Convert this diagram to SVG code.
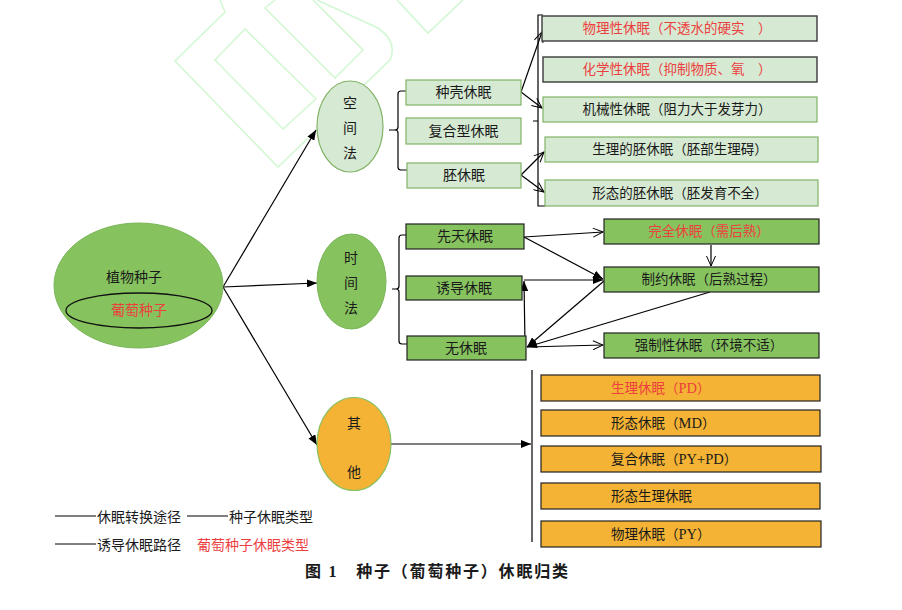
<svg xmlns="http://www.w3.org/2000/svg" width="902" height="610" viewBox="0 0 902 610">
<defs>
<marker id="fa" viewBox="0 0 10 8" refX="10" refY="4" markerWidth="10" markerHeight="8" markerUnits="userSpaceOnUse" orient="auto">
<path d="M0,0 L10,4 L0,8 Z" fill="#000"/>
</marker>
<marker id="oa" viewBox="0 0 12 10" refX="11" refY="5" markerWidth="12" markerHeight="10" markerUnits="userSpaceOnUse" orient="auto">
<path d="M1,0.5 L11,5 L1,9.5" fill="none" stroke="#000" stroke-width="1"/>
</marker>
</defs>
<style>
text{font-family:"Liberation Serif","Noto Sans CJK SC",serif;font-size:14px;fill:#1a1a1a;dominant-baseline:central;text-anchor:middle}
.s{font-size:13.5px}
.r{fill:#ec3f3f}
.lt{font-size:14.5px}
.lg{stroke:#82b366;stroke-width:1.2;fill:#d6e9d2}
.lgd{stroke:#3a3a3a;stroke-width:1.4;fill:#d6e9d2}
.dg{stroke:#222;stroke-width:1.2;fill:#86c35e}
.or{stroke:#222;stroke-width:1.2;fill:#f4b334}
.ln{stroke:#000;stroke-width:1.2;fill:none}
.wm{stroke:#d3f8d3;stroke-width:1.6;fill:none}
.st{text-anchor:start}
</style>
<rect width="902" height="610" fill="#fff"/>
<g id="watermark">
<path class="wm" d="M220,0 L225,12 L175,61 L278,167 L332,115 L350,132"/>
<path class="wm" d="M215,60 L245,29 L316,99 L283,129 Z"/>
<path class="wm" d="M275,0 L265,8 L335,78 L363,50 L313,0"/>
<path class="wm" d="M317,0 L378,28 Q398,42 390,60 L340,108"/>
<path class="wm" d="M397,0 L428,33 L463,0"/>
<path class="wm" d="M345,90 L362,103 L350,115"/>
</g>
<g id="connectors">
<line class="ln" x1="223" y1="287" x2="316" y2="130" marker-end="url(#fa)"/>
<line class="ln" x1="223" y1="287" x2="317" y2="283" marker-end="url(#fa)"/>
<line class="ln" x1="223" y1="287" x2="317" y2="445" marker-end="url(#fa)"/>
<path class="ln" d="M406 91 L401 91 Q398 91 398 94 L398 127 Q398 130 395 130 L389 130 M395 130 Q398 130 398 133 L398 167 Q398 170 401 170 L407 170"/>
<path class="ln" d="M406 235 L402 235 Q399 235 399 238 L399 286 Q399 289 396 289 L392 289 M396 289 Q399 289 399 292 L399 341 Q399 344 402 344 L407 344"/>
<path class="ln" d="M543 15 L538 15 L538 206 L545 206 M533 121 L538 121"/>
<line class="ln" x1="521" y1="92" x2="542" y2="32" marker-end="url(#oa)"/>
<line class="ln" x1="521" y1="92" x2="542" y2="108" marker-end="url(#oa)"/>
<line class="ln" x1="521" y1="175" x2="544" y2="152" marker-end="url(#oa)"/>
<line class="ln" x1="521" y1="175" x2="544" y2="192" marker-end="url(#oa)"/>
<line class="ln" x1="524" y1="237" x2="603" y2="232" marker-end="url(#oa)"/>
<line class="ln" x1="524" y1="237" x2="603" y2="279" marker-end="url(#fa)"/>
<line class="ln" x1="524" y1="280" x2="603" y2="280" marker-end="url(#fa)"/>
<line class="ln" x1="525" y1="345" x2="524" y2="281" marker-end="url(#fa)"/>
<line class="ln" x1="604" y1="281" x2="527" y2="347" marker-end="url(#fa)"/>
<line class="ln" x1="710" y1="292" x2="527" y2="347" marker-end="url(#fa)"/>
<line class="ln" x1="527" y1="347" x2="603" y2="345" marker-end="url(#oa)"/>
<line class="ln" x1="711" y1="245" x2="711" y2="266" marker-end="url(#oa)"/>
<line class="ln" x1="532" y1="370" x2="532" y2="542"/>
<line class="ln" x1="391" y1="444" x2="531" y2="444" marker-end="url(#fa)"/>
</g>
<g id="plant">
<ellipse cx="138.5" cy="285.5" rx="84.5" ry="62.5" fill="#86c35e" stroke="#7ab55a" stroke-width="1"/>
<text x="134" y="277">植物种子</text>
<ellipse cx="139" cy="310.5" rx="73" ry="17.5" fill="none" stroke="#111" stroke-width="1.3"/>
<text class="r" x="139" y="310">葡萄种子</text>
</g>
<g id="space">
<ellipse cx="350" cy="126.5" rx="33" ry="45.5" fill="#d6e9d2" stroke="#82b366" stroke-width="1.2"/>
<text x="350" y="103">空</text><text x="350" y="128">间</text><text x="350" y="153">法</text>
</g>
<g id="n-zhongke"><rect class="lg" x="406" y="80" width="115" height="25"/><text x="463.5" y="92.5">种壳休眠</text></g>
<g id="n-fuhexing"><rect class="lg" x="406" y="118" width="115" height="26"/><text x="463.5" y="131">复合型休眠</text></g>
<g id="n-pei"><rect class="lg" x="407" y="163" width="114" height="25"/><text x="464" y="175.5">胚休眠</text></g>
<g id="n-wuli"><rect class="lgd" x="542" y="16" width="275" height="25"/><text class="s r" x="677" y="28.5">物理性休眠（不透水的硬实　）</text></g>
<g id="n-huaxue"><rect class="lgd" x="543" y="57" width="274" height="25"/><text class="s r" x="677" y="69.5">化学性休眠（抑制物质、氧　）</text></g>
<g id="n-jixie"><rect class="lg" x="543" y="97" width="274" height="25"/><text class="s" x="677" y="109.5">机械性休眠（阻力大于发芽力）</text></g>
<g id="n-shenglipei"><rect class="lg" x="545" y="137" width="273" height="25"/><text class="s" x="680" y="149.5">生理的胚休眠（胚部生理碍）</text></g>
<g id="n-xingtaipei"><rect class="lg" x="545" y="180" width="273" height="26"/><text class="s" x="680" y="193">形态的胚休眠（胚发育不全）</text></g>
<g id="time">
<ellipse cx="351.5" cy="281.5" rx="34.5" ry="47.5" fill="#86c35e" stroke="#7ab55a" stroke-width="1"/>
<text x="351" y="258">时</text><text x="351" y="283">间</text><text x="351" y="308">法</text>
</g>
<g id="n-xiantian"><rect class="dg" x="406" y="224" width="118" height="25"/><text x="465" y="236.5">先天休眠</text></g>
<g id="n-youdao"><rect class="dg" x="406" y="276" width="116" height="24"/><text x="464" y="288">诱导休眠</text></g>
<g id="n-wu"><rect class="dg" x="407" y="336" width="119" height="24"/><text x="466" y="348">无休眠</text></g>
<g id="n-wanquan"><rect class="dg" x="604" y="219" width="215" height="25"/><text class="s r" x="709" y="231.5">完全休眠（需后熟）</text></g>
<g id="n-zhiyue"><rect class="dg" x="604" y="267" width="215" height="25"/><text class="s" x="709" y="279.5">制约休眠（后熟过程）</text></g>
<g id="n-qiangzhi"><rect class="dg" x="604" y="333" width="215" height="25"/><text class="s" x="709" y="345.5">强制性休眠（环境不适）</text></g>
<g id="other">
<ellipse cx="354" cy="444" rx="37" ry="46.5" fill="#f4b334" stroke="#8bbf60" stroke-width="1.2"/>
<text x="354" y="423">其</text><text x="354" y="472">他</text>
</g>
<g id="n-pd"><rect class="or" x="541" y="375" width="279" height="26"/><text class="s r st" x="611" y="388">生理休眠（<tspan class="lt">PD</tspan>）</text></g>
<g id="n-md"><rect class="or" x="541" y="410" width="279" height="26"/><text class="s st" x="611" y="423">形态休眠（<tspan class="lt">MD</tspan>）</text></g>
<g id="n-pypd"><rect class="or" x="541" y="446" width="280" height="26"/><text class="s st" x="611" y="459">复合休眠（<tspan class="lt">PY+PD</tspan>）</text></g>
<g id="n-mpd"><rect class="or" x="541" y="483" width="279" height="26"/><text class="s st" x="611" y="496">形态生理休眠</text></g>
<g id="n-py"><rect class="or" x="541" y="521" width="280" height="26"/><text class="s st" x="611" y="534">物理休眠（<tspan class="lt">PY</tspan>）</text></g>
<g id="legend">
<line x1="55" y1="516" x2="96" y2="516" stroke="#000" stroke-width="1"/>
<text class="st" x="97" y="517">休眠转换途径</text>
<line x1="187" y1="516" x2="228" y2="516" stroke="#000" stroke-width="1"/>
<text class="st" x="229" y="517">种子休眠类型</text>
<line x1="55" y1="544" x2="96" y2="544" stroke="#000" stroke-width="1"/>
<text class="st" x="97" y="545">诱导休眠路径</text>
<text class="st r" x="197" y="545">葡萄种子休眠类型</text>
</g>
<g id="caption">
<text class="st" x="305" y="571" style="font-size:16px;font-weight:bold" textLength="263" lengthAdjust="spacing">图 1　种子（葡萄种子）休眠归类</text>
</g>
</svg>
